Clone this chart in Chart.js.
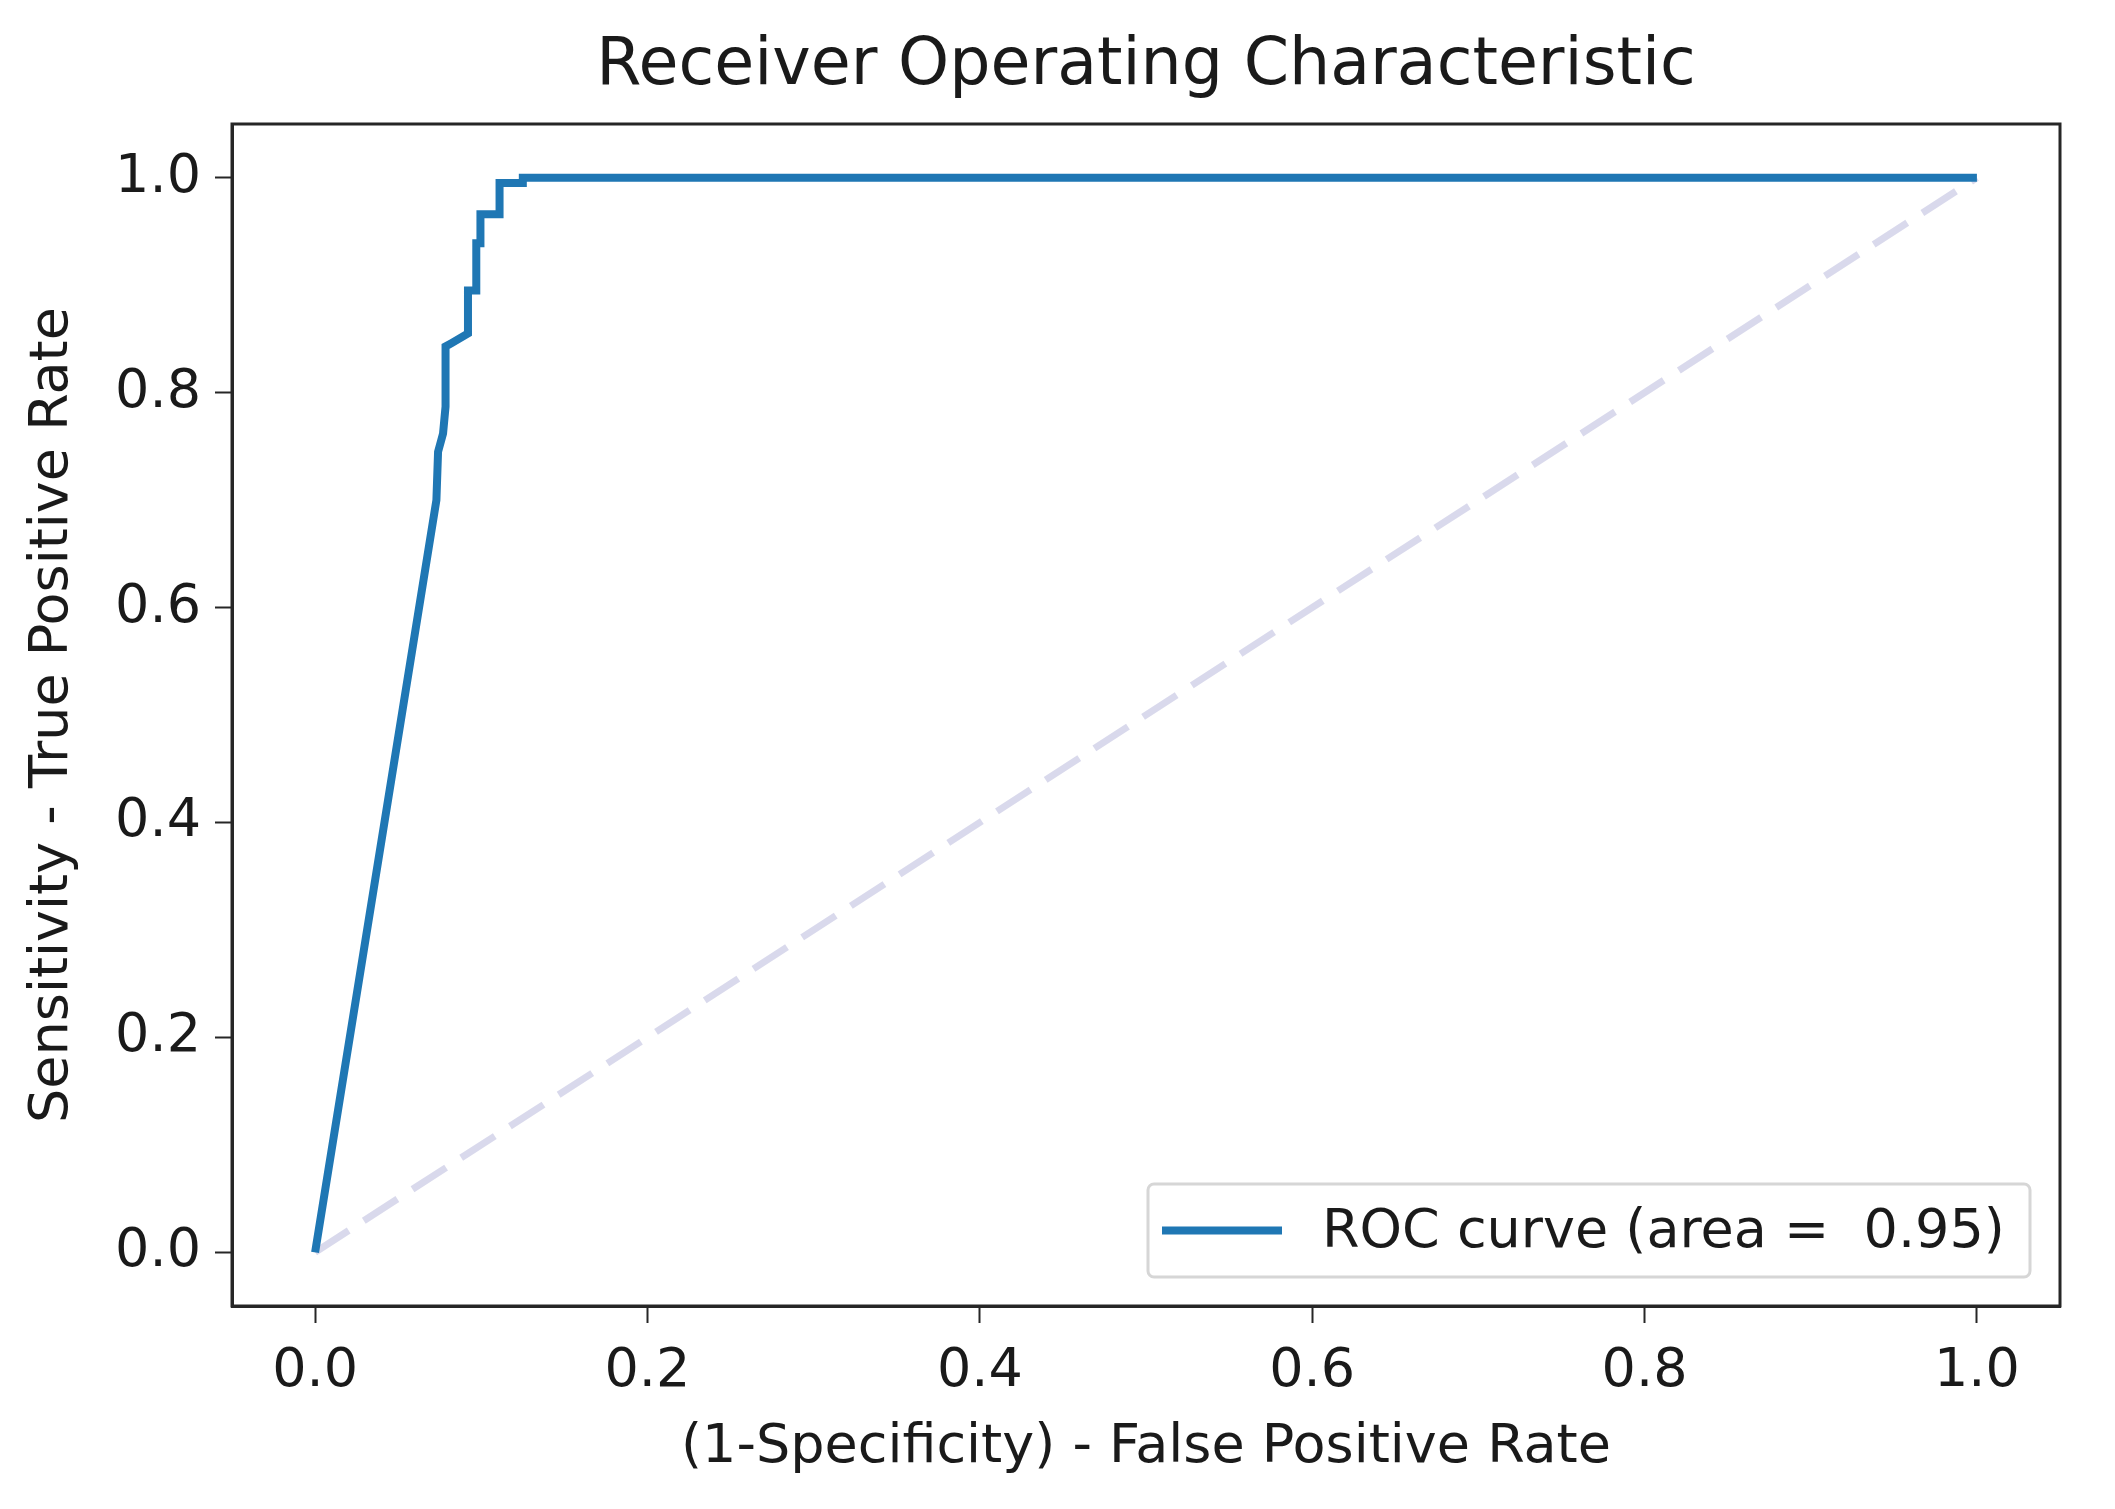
<!DOCTYPE html>
<html>
<head>
<meta charset="utf-8">
<script src="https://cdn.jsdelivr.net/npm/chart.js@4.4.1/dist/chart.umd.min.js"></script>
<style>
  html, body { margin: 0; padding: 0; background: #fff; }
  #wrap { width: 2115px; height: 1509px; }
</style>
</head>
<body>
<div id="wrap"><canvas id="myChart" width="2115" height="1509"></canvas></div>
<script>
// datos
const fpr = [0, 0.073, 0.074, 0.077, 0.0785, 0.0785, 0.082, 0.092, 0.092, 0.097, 0.097, 0.0995, 0.0995, 0.111, 0.111, 0.113, 0.125, 0.125, 1.0];
const tpr = [0, 0.70, 0.745, 0.762, 0.787, 0.843, 0.846, 0.855, 0.895, 0.895, 0.939, 0.939, 0.966, 0.966, 0.995, 0.995, 0.995, 1.0, 1.0];
const diagX = [0, 1];
const diagY = [0, 1];
const tickVals = [0, 0.2, 0.4, 0.6, 0.8, 1.0];
const legendText = "ROC curve (area =  0.95)";

const fuente = "'DejaVu Sans', sans-serif";
const negro = "#1a1a1a";
const ejeColor = "#262626";

// marco completo alrededor del area de la grafica + leyenda tipo matplotlib
const marcoLeyenda = {
  id: "marcoLeyenda",
  afterDraw(chart) {
    const ctx = chart.ctx;
    const a = chart.chartArea;
    ctx.save();
    ctx.strokeStyle = ejeColor;
    ctx.lineWidth = 3;
    ctx.strokeRect(a.left, a.top, a.right - a.left, a.bottom - a.top);

    // leyenda
    const w = 882, h = 93;
    const x = a.right - 30 - w;
    const y = a.bottom - 29 - h;
    ctx.beginPath();
    ctx.roundRect(x, y, w, h, 6);
    ctx.fillStyle = "rgba(255,255,255,0.8)";
    ctx.fill();
    ctx.strokeStyle = "#d6d6d6";
    ctx.lineWidth = 3;
    ctx.stroke();
    const cy = y + h / 2;
    ctx.beginPath();
    ctx.moveTo(x + 14, cy);
    ctx.lineTo(x + 134, cy);
    ctx.strokeStyle = "#1f77b4";
    ctx.lineWidth = 8;
    ctx.stroke();
    ctx.fillStyle = negro;
    ctx.font = "54px " + fuente;
    ctx.textBaseline = "middle";
    ctx.textAlign = "left";
    ctx.fillText(legendText, x + 174, cy + 2);
    ctx.restore();
  }
};

const grafica = document.getElementById("myChart").getContext("2d");

const myChart = new Chart(grafica, {
  type: "line",
  data: {
    datasets: [
      {
        label: legendText,
        data: fpr.map((v, i) => ({ x: v, y: tpr[i] })),
        borderColor: "#1f77b4",
        borderWidth: 8,
        pointRadius: 0,
        tension: 0,
        fill: false,
        order: 1
      },
      {
        label: "diagonal",
        data: diagX.map((v, i) => ({ x: v, y: diagY[i] })),
        borderColor: "rgba(0,0,128,0.15)",
        borderWidth: 7,
        borderDash: [40, 18],
        pointRadius: 0,
        fill: false,
        order: 2
      }
    ]
  },
  options: {
    responsive: false,
    animation: false,
    layout: { padding: { left: 0, right: 55, top: 0, bottom: 0 } },
    plugins: {
      legend: { display: false },
      tooltip: { enabled: false },
      title: {
        display: true,
        fullSize: false,
        text: "Receiver Operating Characteristic",
        color: negro,
        font: { family: fuente, size: 65, weight: "normal" },
        padding: { top: 28, bottom: 18 }
      }
    },
    scales: {
      x: {
        type: "linear",
        min: -0.05,
        max: 1.05,
        afterBuildTicks: (s) => { s.ticks = tickVals.map(v => ({ value: v })); },
        afterFit: (s) => { s.height = 203; },
        ticks: {
          color: negro,
          font: { family: fuente, size: 54 },
          padding: 17,
          maxRotation: 0,
          callback: (v) => Number(v).toFixed(1)
        },
        grid: { drawOnChartArea: false, tickLength: 17, tickWidth: 2, tickColor: ejeColor },
        border: { display: true, color: ejeColor, width: 3 },
        title: {
          display: true,
          text: "(1-Specificity) - False Positive Rate",
          color: negro,
          font: { family: fuente, size: 54 },
          padding: { top: 0, bottom: 29 }
        }
      },
      y: {
        type: "linear",
        min: -0.05,
        max: 1.05,
        afterBuildTicks: (s) => { s.ticks = tickVals.map(v => ({ value: v })); },
        afterFit: (s) => { s.width = 232; },
        ticks: {
          color: negro,
          font: { family: fuente, size: 54 },
          padding: 14,
          callback: (v) => Number(v).toFixed(1)
        },
        grid: { drawOnChartArea: false, tickLength: 17, tickWidth: 2, tickColor: ejeColor },
        border: { display: true, color: ejeColor, width: 3 },
        title: {
          display: true,
          text: "Sensitivity - True Positive Rate",
          color: negro,
          font: { family: fuente, size: 54 },
          padding: { top: 21, bottom: 0 }
        }
      }
    }
  },
  plugins: [marcoLeyenda]
});
</script>
</body>
</html>
